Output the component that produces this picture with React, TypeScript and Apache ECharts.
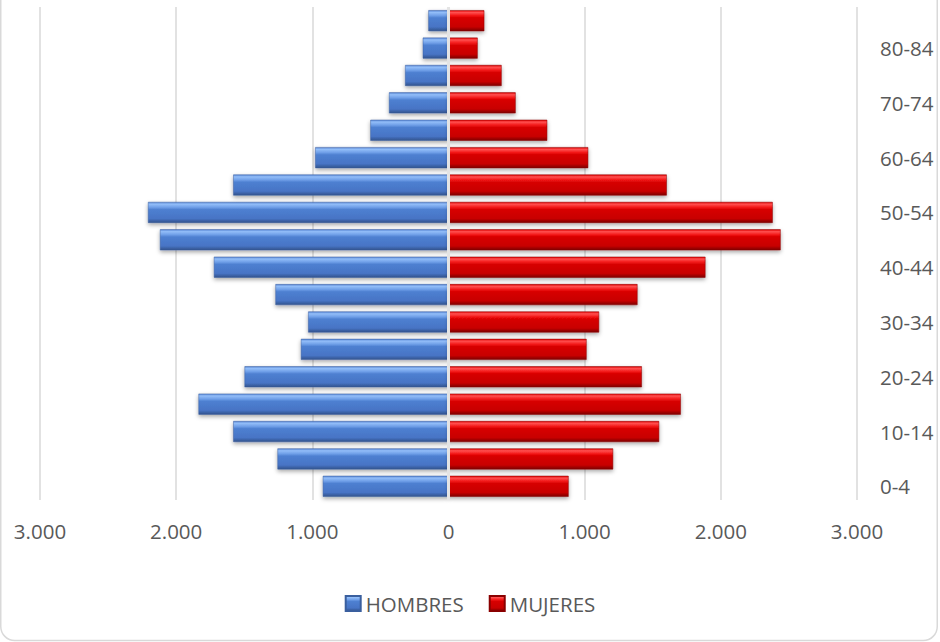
import React, { useEffect, useRef } from "react";
import * as echarts from "echarts";

const ageGroups = ["0-4", "5-9", "10-14", "15-19", "20-24", "25-29", "30-34", "35-39", "40-44", "45-49", "50-54", "55-59", "60-64", "65-69", "70-74", "75-79", "80-84", "85+"];
const hombres = [923, 1256, 1581, 1836, 1498, 1084, 1031, 1271, 1723, 2119, 2207, 1581, 979, 574, 437, 319, 189, 148];
const mujeres = [882, 1209, 1547, 1706, 1420, 1014, 1106, 1388, 1887, 2439, 2381, 1603, 1026, 725, 493, 390, 214, 263];
const axisMin = -3000;
const axisMax = 3000;
const axisStep = 1000;

const fmt = (v: number) => {
  const a = Math.abs(v);
  return a >= 1000 ? `${Math.floor(a / 1000)}.${String(a % 1000).padStart(3, "0")}` : String(a);
};

const grad = (stops: [number, string][]) =>
  new echarts.graphic.LinearGradient(0, 0, 0, 1, stops.map(([offset, color]) => ({ offset, color })));

const blue = grad([
  [0, "#5a88d6"],
  [0.1, "#92bdf8"],
  [0.25, "#6f9fe8"],
  [0.36, "#4e80d1"],
  [0.8, "#4774c5"],
  [0.9, "#3c63a8"],
  [1, "#33538c"],
]);
const red = grad([
  [0, "#e00000"],
  [0.1, "#ff5050"],
  [0.25, "#f31818"],
  [0.36, "#d70000"],
  [0.8, "#c80000"],
  [0.9, "#a20000"],
  [1, "#7e0000"],
]);

export default function App() {
  const ref = useRef<HTMLDivElement>(null);
  useEffect(() => {
    if (!ref.current) return;
    const chart = echarts.init(ref.current, undefined, { renderer: "svg" });
    const font = "'Open Sans', 'DejaVu Sans', sans-serif";
    chart.setOption({
      animation: false,
      backgroundColor: "#ffffff",
      textStyle: { fontFamily: font },
      grid: { left: 40, right: 83, top: 7, bottom: 142, containLabel: false },
      legend: {
        data: ["HOMBRES", "MUJERES"],
        bottom: 23,
        left: "center",
        icon: "rect",
        itemWidth: 15,
        itemHeight: 15,
        itemGap: 25,
        textStyle: { fontSize: 20.5, color: "#595959", fontFamily: font },
      },
      xAxis: {
        type: "value",
        min: axisMin,
        max: axisMax,
        interval: axisStep,
        axisLine: { show: false },
        axisTick: { show: false },
        splitLine: { show: true, lineStyle: { color: "#d9d9d9", width: 1.5 } },
        axisLabel: { formatter: fmt, fontSize: 20.5, color: "#595959", margin: 20, fontFamily: font },
      },
      yAxis: {
        type: "category",
        position: "right",
        data: ageGroups,
        axisLine: { show: false },
        axisTick: { show: false },
        axisLabel: { interval: 1, fontSize: 20.5, color: "#595959", margin: 23, align: "left", fontFamily: font },
      },
      series: [
        {
          name: "HOMBRES",
          type: "bar",
          data: hombres.map((v) => -v),
          barWidth: 21,
          barGap: "-100%",
          itemStyle: {
            color: blue,
            borderColor: "#3a5f9e",
            borderWidth: 0.5,
            shadowColor: "rgba(0,0,0,0.35)",
            shadowBlur: 4,
            shadowOffsetY: 2,
          },
          markLine: {
            silent: true,
            symbol: "none",
            label: { show: false },
            z: 10,
            lineStyle: { color: "#e4e4e4", width: 3, type: "solid" },
            data: [{ xAxis: 0 }],
          },
        },
        {
          name: "MUJERES",
          type: "bar",
          data: mujeres,
          barWidth: 21,
          barGap: "-100%",
          itemStyle: {
            color: red,
            borderColor: "#8a0000",
            borderWidth: 0.5,
            shadowColor: "rgba(0,0,0,0.35)",
            shadowBlur: 4,
            shadowOffsetY: 2,
          },
        },
      ],
      graphic: [
        {
          type: "rect",
          silent: true,
          z: -1,
          shape: { x: 0.75, y: -30, width: 936.5, height: 670.5, r: 14 },
          style: { fill: "none", stroke: "#d9d9d9", lineWidth: 1.5 },
        },
      ],
    });
    return () => chart.dispose();
  }, []);
  return <div ref={ref} style={{ position: "fixed", left: 0, top: 0, width: 940, height: 642 }} />;
}
